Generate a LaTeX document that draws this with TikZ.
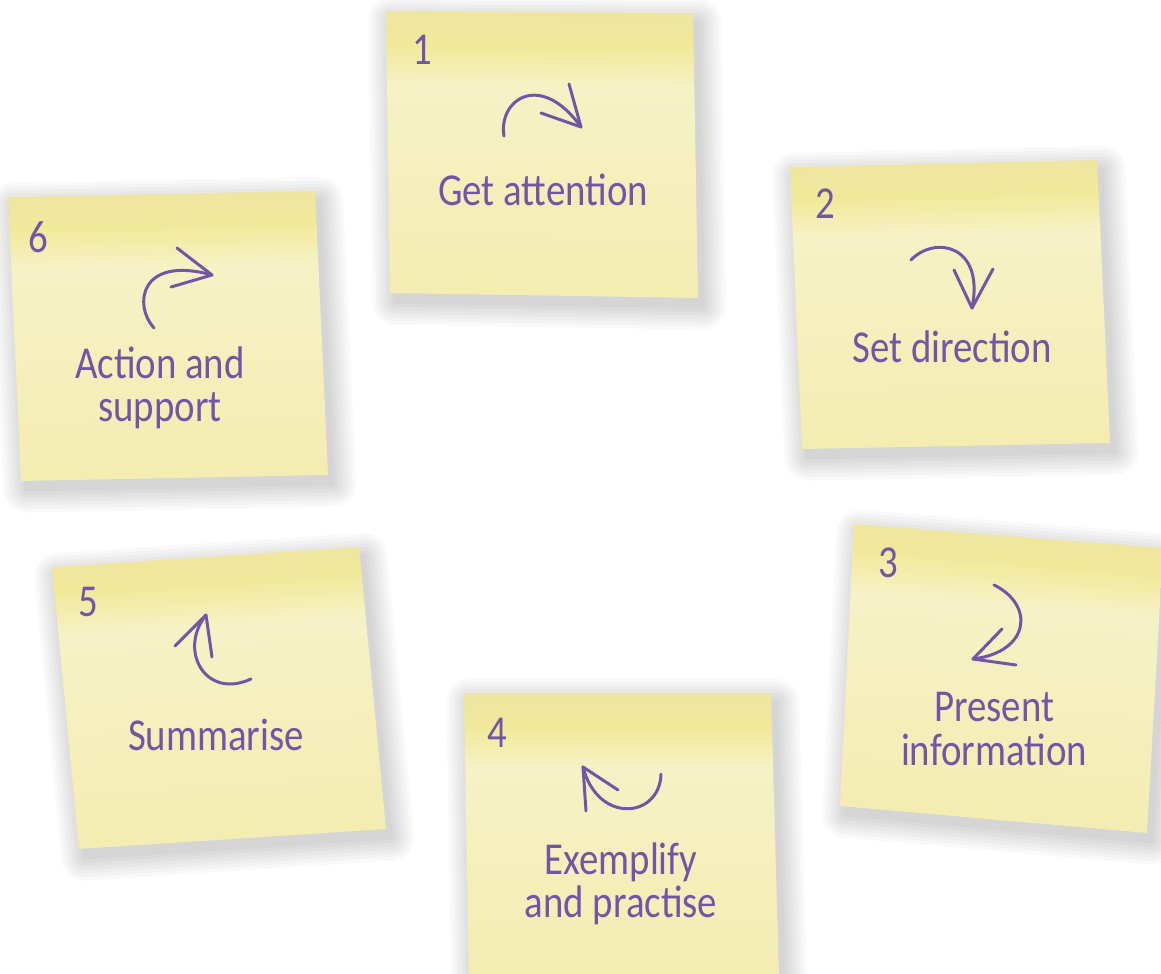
\documentclass[tikz,border=0pt]{standalone}
\usepackage{fontspec}
\setmainfont{Carlito}
\newfontfamily\handfont[FakeStretch=0.85]{Carlito}
\definecolor{penpurple}{HTML}{7256A6}
\definecolor{notetop}{HTML}{EFE5A3}
\definecolor{noteband}{HTML}{F1E999}
\definecolor{notelight}{HTML}{F6F2C6}
\definecolor{notemid}{HTML}{F5F0BE}
\definecolor{notebottom}{HTML}{F3EDB1}
% paper colour of a note, top band darker
\pgfdeclareverticalshading{notepaper}{100bp}{color(0bp)=(notebottom); color(25bp)=(notebottom);
  color(50bp)=(notemid); color(62bp)=(notelight); color(69bp)=(noteband);
  color(75bp)=(notetop); color(100bp)=(notetop)}
\tikzset{
  note/.style={shading=notepaper},
  noteshadow/.style={draw=black, fill=black, line join=round},
  pen/.style={draw=penpurple, line width=1.7pt, line cap=round, line join=round},
  hand/.style={text=penpurple, align=center, font=\handfont\fontsize{26}{24.5}\selectfont},
  num/.style={text=penpurple, font=\handfont\fontsize{26}{26}\selectfont},
}
% soft shadow (stacked, widening outlines), then the shaded sheet:
% #1 tilt of the top band, #2 outline
\newcommand\stickynote[2]{%
  \foreach \w in {26,22,...,2}{
    \begin{scope}[transparency group, opacity=0.024, shift={(3pt,-5pt)}]
      \path (-20,-20) rectangle (1181,994);
      \path[noteshadow, line width=\w pt] #2;
    \end{scope}
  }
  \path[note, shading angle=#1] #2;
}

\begin{document}
\begin{tikzpicture}[x=0.02cm, y=-0.02cm]
  \fill[white] (0,0) rectangle (1161,974);
  \useasboundingbox (0,0) rectangle (1161,974);

  % the six notes
  \stickynote{-0.4}{(386,11) -- (693,13) -- (698,298) -- (390,293) -- cycle}
  \stickynote{1.3}{(790,167) -- (1097,160) -- (1110,443) -- (802,449) -- cycle}
  \stickynote{-4.7}{(854,524) -- (1163,548) -- (1147,833) -- (840,806) -- cycle}
  \stickynote{0}{(464,693) -- (771,693) -- (779,978) -- (469,978) -- cycle}
  \stickynote{3.7}{(52,567) -- (359,547) -- (386,829) -- (79,849) -- cycle}
  \stickynote{1.1}{(8,197) -- (315,191) -- (328,475) -- (21,481) -- cycle}

  % 1
  \node[num] (n1) at (422,50) {1};
  \draw[pen] (504,136) .. controls (498,100) and (540,70) .. (581,127);
  \draw[pen] (569,84) -- (581,127) -- (541,113);
  \node[hand] (t1) at (543,190) {Get attention};

  % 2
  \node[num] (n2) at (825,204) {2};
  \draw[pen] (911,260) .. controls (935,235) and (985,245) .. (972,308);
  \draw[pen] (954,270) -- (972,308) -- (993,269);
  \node[hand] (t2) at (952,347) {Set direction};

  % 3
  \node[num] (n3) at (888,563) {3};
  \draw[pen] (994,585) .. controls (1035,605) and (1030,652) .. (973,659);
  \draw[pen] (1002,629) -- (973,659) -- (1016,665);
  \node[hand] (t3) at (994,729) {Present\\information};

  % 4
  \node[num] (n4) at (497,733) {4};
  \draw[pen] (661,774) .. controls (660,818) and (598,825) .. (583,767);
  \draw[pen] (586,811) -- (583,767) -- (618,790);
  \node[hand] (t4) at (621,884) {Exemplify\\and practise};

  % 5
  \node[num] (n5) at (88,602) {5};
  \draw[pen] (251,679) .. controls (205,700) and (178,650) .. (206,615);
  \draw[pen] (175,646) -- (206,615) -- (212,657);
  \node[hand] (t5) at (216,735) {Summarise};

  % 6
  \node[num] (n6) at (38,237) {6};
  \draw[pen] (154,328) .. controls (133,305) and (140,255) .. (212,275);
  \draw[pen] (177,248) -- (212,275) -- (171,287);
  \node[hand] (t6) at (160,388) {Action and\\support};
\end{tikzpicture}
\end{document}
